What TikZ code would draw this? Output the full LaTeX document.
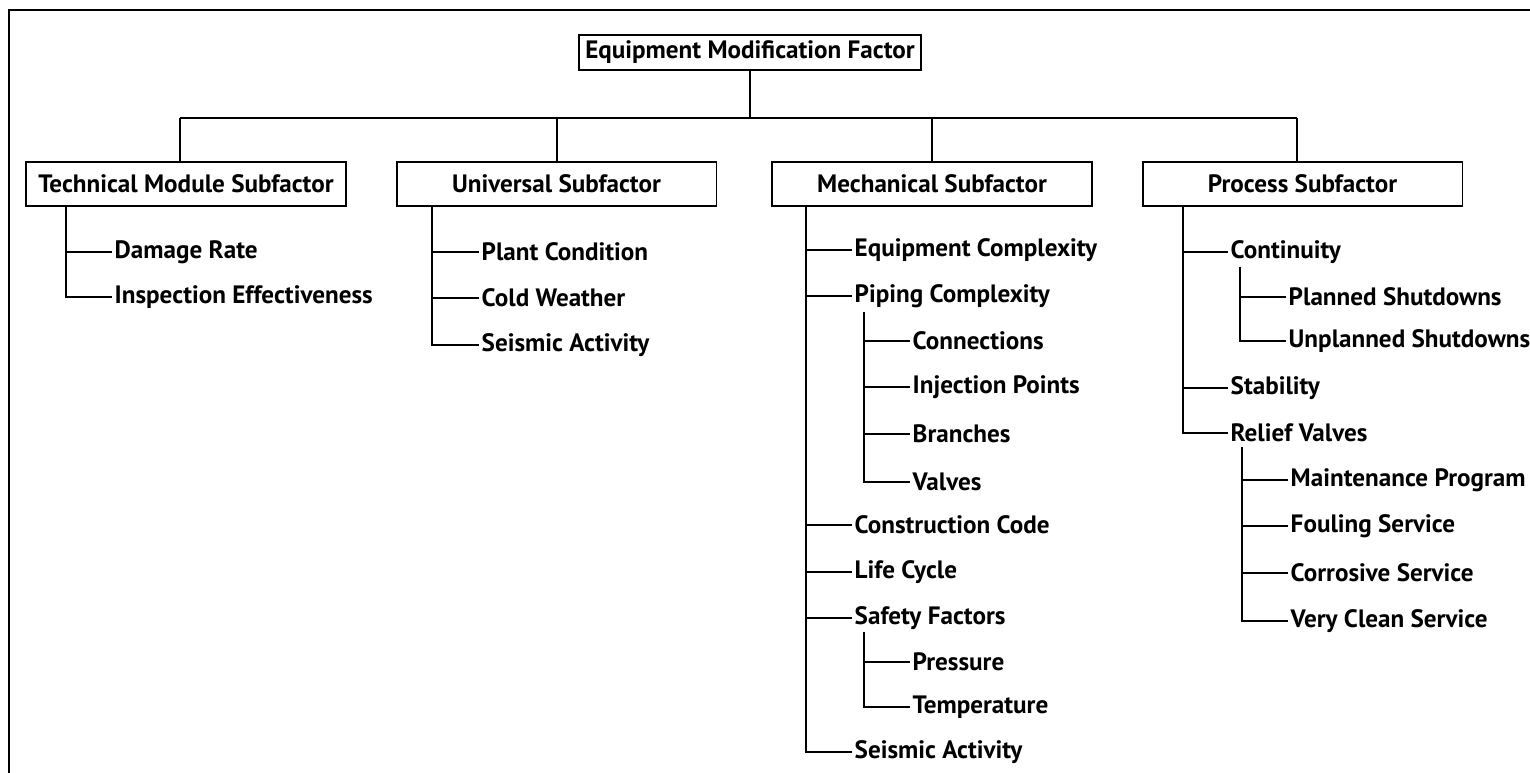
\documentclass[tikz,border=0pt]{standalone}
\usepackage{fontspec}
\setmainfont{PT Sans}
\begin{document}
\begin{tikzpicture}[x=0.02cm, y=-0.02cm, line width=1.1pt,
        box/.style={draw, rectangle, minimum width=6.4cm, minimum height=0.88cm, font=\fontsize{14.3}{16}\selectfont\bfseries},
        item/.style={anchor=west, inner sep=1pt, font=\fontsize{14.3}{16}\selectfont\bfseries}]
            \useasboundingbox (0,0) rectangle (1530,773);
            \draw (9,773) -- (9,10) -- (1530,10);
            % top level
            \node[box, minimum width=6.84cm, minimum height=0.7cm, inner sep=1pt] (root) at (750,52.5) {Equipment Modification Factor};
            \node[box] (tech) at (186,184) {Technical Module Subfactor};
            \node[box] (univ) at (556.5,184) {Universal Subfactor};
            \node[box] (mech) at (932,184) {Mechanical Subfactor};
            \node[box] (proc) at (1302.5,184) {Process Subfactor};
            \coordinate (bar) at (750,118);
            \coordinate (techtop) at (180,118);
            \coordinate (univtop) at (557,118);
            \coordinate (mechtop) at (932,118);
            \coordinate (proctop) at (1297,118);
            \draw (root) -- (bar);
            \draw (techtop) -- (proctop);
            \foreach \n in {tech,univ,mech,proc}
                \draw (\n top) -- (\n top |- \n.north);
            % technical module
            \node[item] (dmg) at (112,252) {Damage Rate};
            \node[item] (insp) at (112,297) {Inspection Effectiveness};
            \coordinate (techtrunk) at (66,206);
            \draw (techtrunk |- dmg) -- (dmg.west);
            \draw (techtrunk) |- (insp.west);
            % universal
            \node[item] (plant) at (479,252) {Plant Condition};
            \node[item] (cold) at (479,298) {Cold Weather};
            \node[item] (seis) at (479,345) {Seismic Activity};
            \coordinate (univtrunk) at (432,206);
            \draw (univtrunk |- plant) -- (plant.west);
            \draw (univtrunk |- cold) -- (cold.west);
            \draw (univtrunk) |- (seis.west);
            % mechanical
            \node[item] (equip) at (852,250) {Equipment Complexity};
            \node[item] (pipe) at (852,296) {Piping Complexity};
            \node[item] (conn) at (910,341) {Connections};
            \node[item] (inj) at (910,387) {Injection Points};
            \node[item] (branch) at (910,434) {Branches};
            \node[item] (valve) at (910,482) {Valves};
            \node[item] (code) at (852,525) {Construction Code};
            \node[item] (life) at (852,572) {Life Cycle};
            \node[item] (safe) at (852,618) {Safety Factors};
            \node[item] (press) at (910,662) {Pressure};
            \node[item] (temp) at (910,707) {Temperature};
            \node[item] (mseis) at (852,752) {Seismic Activity};
            \coordinate (mechtrunk) at (806,206);
            \foreach \n in {equip,pipe,code,life,safe}
                \draw (mechtrunk |- \n) -- (\n.west);
            \draw (mechtrunk) |- (mseis.west);
            \coordinate (pipetrunk) at (864,312);
            \foreach \n in {conn,inj,branch}
                \draw (pipetrunk |- \n) -- (\n.west);
            \draw (pipetrunk) |- (valve.west);
            \coordinate (safetrunk) at (864,632);
            \draw (safetrunk |- press) -- (press.west);
            \draw (safetrunk) |- (temp.west);
            % process
            \node[item] (cont) at (1228,252) {Continuity};
            \node[item] (plan) at (1286,297) {Planned Shutdowns};
            \node[item] (unplan) at (1286,341) {Unplanned Shutdowns};
            \node[item] (stab) at (1228,388) {Stability};
            \node[item] (relief) at (1228,433) {Relief Valves};
            \node[item] (maint) at (1288,480) {Maintenance Program};
            \node[item] (foul) at (1288,526) {Fouling Service};
            \node[item] (corr) at (1288,573) {Corrosive Service};
            \node[item] (clean) at (1288,621) {Very Clean Service};
            \coordinate (proctrunk) at (1183,206);
            \foreach \n in {cont,stab}
                \draw (proctrunk |- \n) -- (\n.west);
            \draw (proctrunk) |- (relief.west);
            \coordinate (conttrunk) at (1240,267);
            \draw (conttrunk |- plan) -- (plan.west);
            \draw (conttrunk) |- (unplan.west);
            \coordinate (relieftrunk) at (1242,447);
            \foreach \n in {maint,foul,corr}
                \draw (relieftrunk |- \n) -- (\n.west);
            \draw (relieftrunk) |- (clean.west);
        \end{tikzpicture}
\end{document}
